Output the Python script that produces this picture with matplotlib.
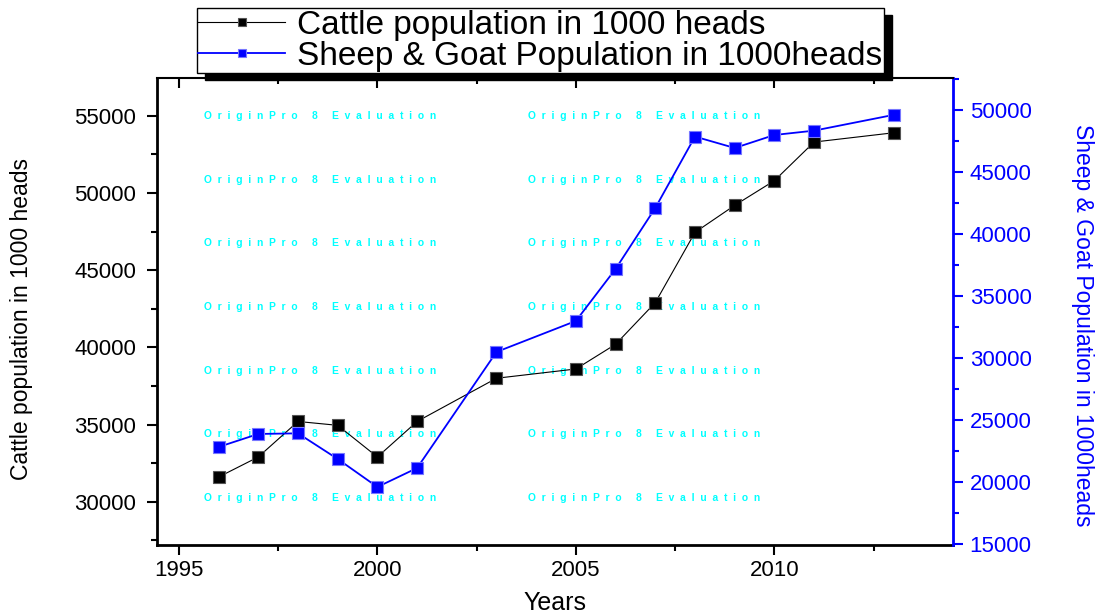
import matplotlib
matplotlib.use('Agg')
import matplotlib.pyplot as plt
import numpy as np
from matplotlib.ticker import MultipleLocator

years = [1996, 1997, 1998, 1999, 2000, 2001, 2003, 2005, 2006, 2007, 2008, 2009, 2010, 2011, 2013]
cattle = [31600, 32900, 35200, 34950, 32900, 35200, 38000, 38600, 40200, 42900,
          47450, 49200, 50800, 53300, 53900]
sheep_goat = [22800, 23850, 23900, 21830, 19570, 21100, 30470, 32970, 37170, 42090,
              47850, 46930, 47980, 48330, 49600]

cattle_label = 'Cattle population in 1000 heads'
sheep_label = 'Sheep & Goat Population in 1000heads'
x_label = 'Years'
watermark = 'OriginPro 8 Evaluation'

plt.rcParams['font.family'] = ['Liberation Sans', 'DejaVu Sans']

fig = plt.figure(figsize=(10.99, 6.16), dpi=100)
ax = fig.add_axes([0.1429, 0.1153, 0.7243, 0.7581])
ax2 = ax.twinx()

l1, = ax.plot(years, cattle, color='black', lw=0.8, marker='s', ms=8.5,
              mfc='black', mec='#555555', mew=0.8, zorder=3)
l2, = ax2.plot(years, sheep_goat, color='blue', lw=1.3, marker='s', ms=8.5,
               mfc='blue', mec='#7777ff', mew=0.8, zorder=3)

ax.set_xlim(1994.45, 2014.5)
ax.set_ylim(27200, 57450)
ax2.set_ylim(14890, 52580)

ax.xaxis.set_major_locator(MultipleLocator(5))
ax.xaxis.set_minor_locator(MultipleLocator(2.5))
ax.yaxis.set_major_locator(MultipleLocator(5000))
ax.yaxis.set_minor_locator(MultipleLocator(2500))
ax2.yaxis.set_major_locator(MultipleLocator(5000))
ax2.yaxis.set_minor_locator(MultipleLocator(2500))

ax.tick_params(which='both', direction='out', width=1.5, labelsize=16)
ax.tick_params(which='major', length=7)
ax.tick_params(which='minor', length=4)
ax.tick_params(axis='y', pad=8)
ax.tick_params(axis='x', pad=4)

ax2.tick_params(axis='y', which='both', direction='out', width=1.5,
                labelsize=16, colors='blue')
ax2.tick_params(axis='y', which='major', length=7, pad=5)
ax2.tick_params(axis='y', which='minor', length=4)

# top axis ticks point inward, drawn from the twin's (shared) x axis
ax2.xaxis.set_visible(True)
ax2.tick_params(axis='x', which='both', bottom=False, labelbottom=False,
                top=True, labeltop=False, direction='in', width=1.5,
                colors='black')
ax2.tick_params(axis='x', which='major', length=7)
ax2.tick_params(axis='x', which='minor', length=4.5)

ax.spines['top'].set_visible(False)
ax.spines['right'].set_visible(False)
ax.spines['left'].set_linewidth(2)
ax.spines['bottom'].set_linewidth(2)
ax2.spines['left'].set_visible(False)
ax2.spines['bottom'].set_visible(False)
ax2.spines['top'].set_linewidth(1.5)
ax2.spines['right'].set_color('blue')
ax2.spines['right'].set_linewidth(2)

ax.set_ylabel(cattle_label, fontsize=16.5)
ax.yaxis.label.set_va('center')
ax.yaxis.set_label_coords(-0.170, 0.484)

ax2.set_ylabel(sheep_label, fontsize=16.5, color='blue',
               rotation=270, va='center', ha='center', rotation_mode='anchor')
ax2.yaxis.set_label_coords(1.162, 0.471)

ax.set_xlabel(x_label, fontsize=18)
ax.xaxis.label.set_va('center')
ax.xaxis.set_label_coords(0.5, -0.124)

spaced = '  '.join(watermark)
for yf in np.linspace(0.1006, 0.9186, 7):
    for xf in (0.059, 0.466):
        ax.text(xf, yf, spaced, transform=ax.transAxes, color='#00ffff',
                fontsize=7.4, fontweight='bold', va='center', ha='left', zorder=1)

leg = fig.legend([l1, l2], [cattle_label, sheep_label], loc='upper left',
                 bbox_to_anchor=(0.179, 0.987), fontsize=24, frameon=True,
                 fancybox=False, edgecolor='black', framealpha=1,
                 shadow={'ox': 6, 'oy': -5, 'color': 'black', 'alpha': 1},
                 borderaxespad=0, handlelength=2.6, handletextpad=0.35,
                 labelspacing=0.0, borderpad=0.05, markerscale=0.75)
leg.get_frame().set_linewidth(1.0)

fig.savefig('out.png', dpi=100)
